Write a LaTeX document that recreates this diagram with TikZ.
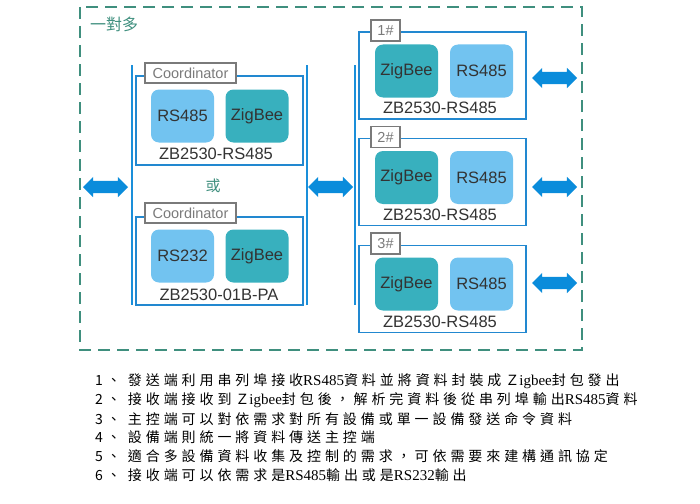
\documentclass[tikz,border=0pt]{standalone}
\usepackage{fontspec}
\setmainfont{Liberation Sans}
\newfontfamily\cjk{Noto Sans CJK TC}
\newfontfamily\cjkwide[LetterSpace=28]{Noto Sans CJK TC}
\newfontfamily\notelat{Liberation Serif}
\usepackage{tikz}
\usetikzlibrary{shapes.arrows}
\definecolor{lightrs}{HTML}{72C3F0}
\definecolor{zbteal}{HTML}{38B0BE}
\definecolor{edgeblue}{HTML}{2288D0}
\definecolor{busblue}{HTML}{1A8FDA}
\definecolor{arrblue}{HTML}{0A8CDB}
\definecolor{groupgreen}{HTML}{3F8F7E}
\definecolor{taggray}{HTML}{7A7A7A}
\definecolor{txtgray}{HTML}{333333}
\newcommand{\lat}[1]{{\notelat\fontsize{15}{16}\selectfont #1}}

\begin{document}
\begin{tikzpicture}[x=1pt,y=-1pt,
	unitbox/.style={draw=edgeblue,line width=1.6pt,minimum width=167pt,inner sep=0pt},
	rsbox/.style={fill=lightrs,rounded corners=8pt,minimum width=63pt,minimum height=53pt,inner sep=0pt,text=txtgray,font=\fontsize{16.5}{18}\selectfont},
	zbbox/.style={rsbox,fill=zbteal},
	tagbox/.style={draw=taggray,fill=white,line width=1.6pt,inner sep=0pt,text=taggray,font=\fontsize{14.5}{16}\selectfont},
	model/.style={text=txtgray,font=\fontsize{16.5}{18}\selectfont,inner sep=0pt},
	fatarrow/.style={double arrow,fill=arrblue,minimum height=45pt,minimum width=20pt,double arrow head extend=4pt,inner xsep=0pt,inner ysep=6pt},
	bus/.style={draw=busblue,line width=2.6pt},
	noteline/.style={anchor=west,inner sep=0pt,text=black,font=\cjkwide\fontsize{14}{16}\selectfont}]
	\useasboundingbox (0,0) rectangle (700,503);
	% outer group
	\draw[groupgreen,line width=2.6pt,dash pattern=on 12pt off 7pt] (80,7) rectangle (582,350);
	\node[text=groupgreen,font=\cjk\fontsize{16}{18}\selectfont,inner sep=0pt] (grouplabel) at (114,24) {一對多};
	% bus lines
	\coordinate (lbusta) at (132,65);
	\coordinate (lbustb) at (132,305);
	\coordinate (lbusra) at (307,65);
	\coordinate (lbusrb) at (307,305);
	\coordinate (rbusa) at (355,65);
	\coordinate (rbusb) at (355,305);
	\draw[bus] (lbusta)--(lbustb);
	\draw[bus] (lbusra)--(lbusrb);
	\draw[bus] (rbusa)--(rbusb);
	% coordinators
	\node[unitbox,minimum height=89pt] (coord1) at (219.5,120.5) {};
	\node[tagbox,minimum width=91pt,minimum height=20pt] (coord1tag) at (190.5,73) {Coordinator};
	\node[rsbox] (coord1rs) at (182.5,116) {RS485};
	\node[zbbox] (coord1zb) at (257,116) {ZigBee};
	\node[model] (coord1name) at (216,154) {ZB2530-RS485};
	\node[text=groupgreen,font=\cjk\fontsize{15}{17}\selectfont,inner sep=0pt] (orlabel) at (213,186) {或};
	\node[unitbox,minimum height=88pt] (coord2) at (219.5,261) {};
	\node[tagbox,minimum width=91pt,minimum height=20pt] (coord2tag) at (190.5,213) {Coordinator};
	\node[rsbox] (coord2rs) at (182.5,256) {RS232};
	\node[zbbox] (coord2zb) at (257,256) {ZigBee};
	\node[model] (coord2name) at (219,295) {ZB2530-01B-PA};
	% devices
	\node[unitbox,minimum height=87pt] (dev1) at (442.5,75.5) {};
	\node[tagbox,minimum width=29pt,minimum height=21pt] (dev1tag) at (385.5,30.5) {1\#};
	\node[zbbox] (dev1zb) at (406.5,71) {ZigBee};
	\node[rsbox] (dev1rs) at (481.5,71) {RS485};
	\node[model] (dev1name) at (440,108) {ZB2530-RS485};
	\node[unitbox,minimum height=87pt] (dev2) at (442.5,182) {};
	\node[tagbox,minimum width=29pt,minimum height=21pt] (dev2tag) at (385.5,137) {2\#};
	\node[zbbox] (dev2zb) at (406.5,177.5) {ZigBee};
	\node[rsbox] (dev2rs) at (481.5,177.5) {RS485};
	\node[model] (dev2name) at (440,215) {ZB2530-RS485};
	\node[unitbox,minimum height=87pt] (dev3) at (442.5,289) {};
	\node[tagbox,minimum width=29pt,minimum height=21pt] (dev3tag) at (385.5,243.5) {3\#};
	\node[zbbox] (dev3zb) at (406.5,284) {ZigBee};
	\node[rsbox] (dev3rs) at (481.5,284) {RS485};
	\node[model] (dev3name) at (440,322) {ZB2530-RS485};
	% fat arrows
	\node[fatarrow] (hostarrow) at (105.5,187) {};
	\node[fatarrow] (linkarrow) at (330.5,187) {};
	\node[fatarrow] (dev1arrow) at (554.5,78) {};
	\node[fatarrow] (dev2arrow) at (554.5,187) {};
	\node[fatarrow] (dev3arrow) at (554.5,283) {};
	% notes
	\node[noteline] (note1) at (95,381) {1、 發送端利用串列埠接收\lat{RS485}資料並將資料封裝成Ｚ\lat{igbee}封包發出};
	\node[noteline] (note2) at (95,400) {2、 接收端接收到Ｚ\lat{igbee}封包後，解析完資料後從串列埠輸出\lat{RS485}資料};
	\node[noteline] (note3) at (95,419) {3、 主控端可以對依需求對所有設備或單一設備發送命令資料};
	\node[noteline] (note4) at (95,437.5) {4、 設備端則統一將資料傳送主控端};
	\node[noteline] (note5) at (95,456) {5、 適合多設備資料收集及控制的需求，可依需要來建構通訊協定};
	\node[noteline] (note6) at (95,475) {6、 接收端可以依需求是\lat{RS485}輸出或是\lat{RS232}輸出};
\end{tikzpicture}
\end{document}
